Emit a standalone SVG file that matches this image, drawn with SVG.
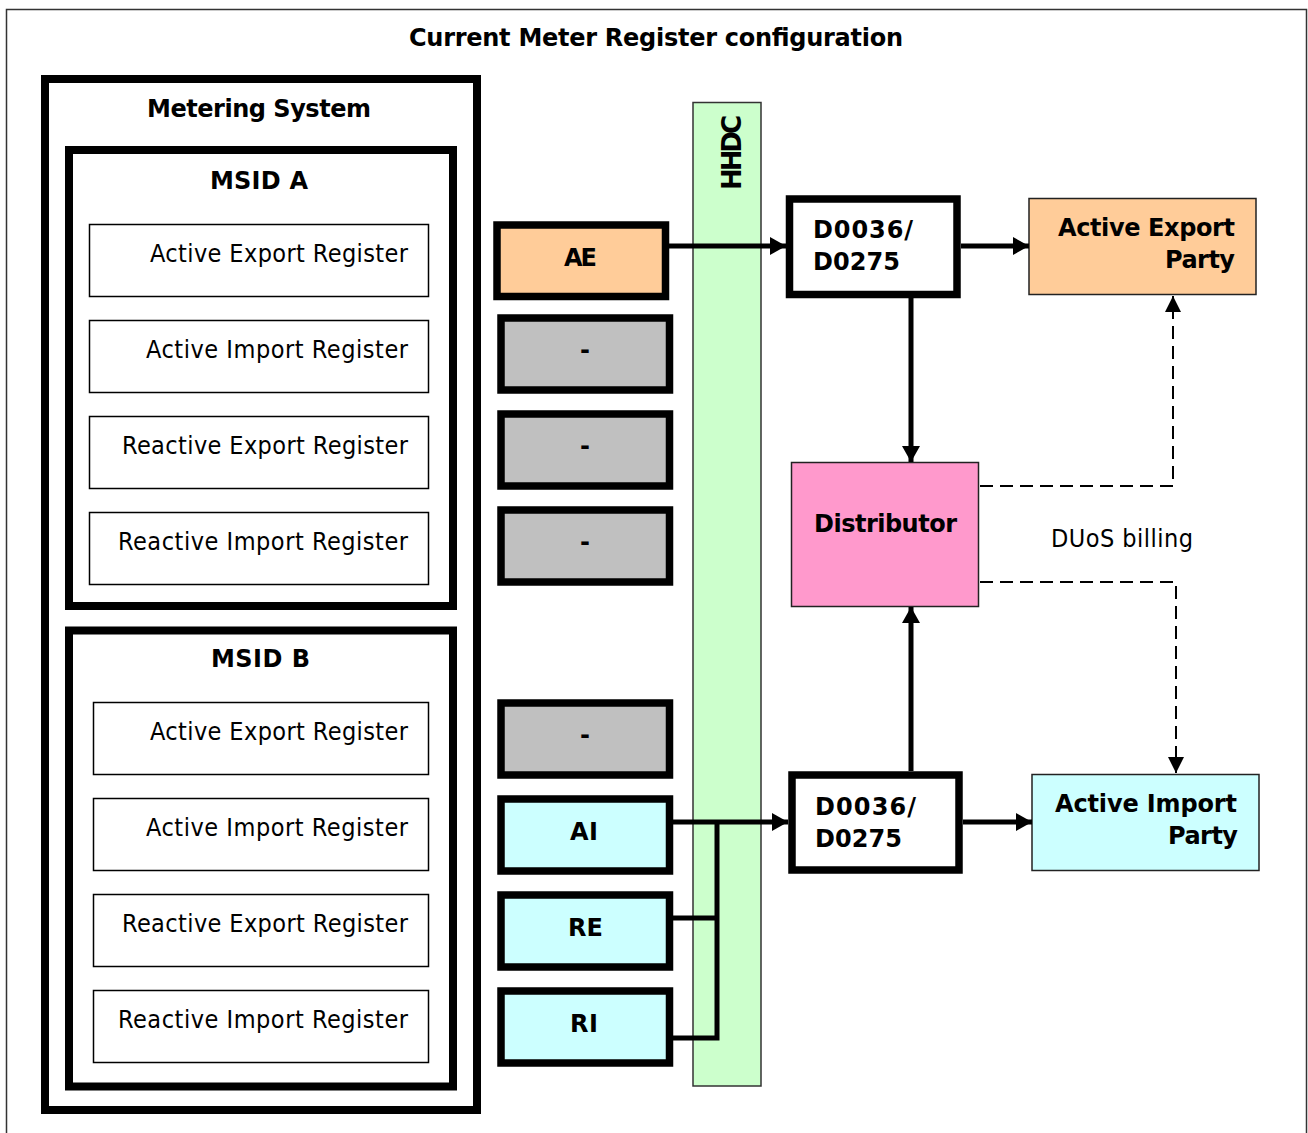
<svg xmlns="http://www.w3.org/2000/svg" width="1308" height="1133" viewBox="0 0 1308 1133">
<defs>
<style>
text{font-family:"DejaVu Sans Condensed","DejaVu Sans",sans-serif;font-stretch:condensed;fill:#000;font-size:25px}
.b{font-family:"DejaVu Sans",sans-serif;font-stretch:normal;font-weight:bold;font-size:24px}
.frame{fill:none;stroke:#000;stroke-width:8}
.reg{fill:#fff;stroke:#000;stroke-width:1.5}
.val{stroke:#000;stroke-width:7.5}
.thin{stroke:#222;stroke-width:1.5}
.ln{fill:none;stroke:#000;stroke-width:5}
.dash{fill:none;stroke:#000;stroke-width:2;stroke-dasharray:13 7}
</style>
<marker id="ah" viewBox="0 0 16 18" refX="16" refY="9" markerWidth="16" markerHeight="18" markerUnits="userSpaceOnUse" orient="auto"><path d="M0,0 L16,9 L0,18 Z" fill="#000"/></marker>
<marker id="ahs" viewBox="0 0 16 16" refX="16" refY="8" markerWidth="16" markerHeight="16" markerUnits="userSpaceOnUse" orient="auto"><path d="M0,0 L16,8 L0,16 Z" fill="#000"/></marker>
</defs>
<rect x="0" y="0" width="1308" height="1133" fill="#fff"/>
<g id="outer">
<rect x="6.5" y="9.5" width="1300" height="1140" fill="#fff" stroke="#333" stroke-width="1.5"/>
<text class="b" x="409" y="46" textLength="494" lengthAdjust="spacing">Current Meter Register configuration</text>
</g>
<g id="metering-system">
<rect class="frame" x="45" y="79" width="432" height="1031"/>
<text class="b" x="147" y="117" textLength="224" lengthAdjust="spacing">Metering System</text>
</g>
<g id="msid-a">
<rect class="frame" x="69" y="150" width="384" height="456"/>
<text class="b" x="210" y="189" textLength="98" lengthAdjust="spacing">MSID A</text>
</g>
<g id="msid-a-aer"><rect class="reg" x="89.5" y="224.5" width="339" height="72"/><text x="150" y="262" textLength="258" lengthAdjust="spacing">Active Export Register</text></g>
<g id="msid-a-air"><rect class="reg" x="89.5" y="320.5" width="339" height="72"/><text x="146" y="358" textLength="262" lengthAdjust="spacing">Active Import Register</text></g>
<g id="msid-a-rer"><rect class="reg" x="89.5" y="416.5" width="339" height="72"/><text x="122" y="454" textLength="286" lengthAdjust="spacing">Reactive Export Register</text></g>
<g id="msid-a-rir"><rect class="reg" x="89.5" y="512.5" width="339" height="72"/><text x="118" y="550" textLength="290" lengthAdjust="spacing">Reactive Import Register</text></g>
<g id="msid-b">
<rect class="frame" x="69" y="630.5" width="384" height="456"/>
<text class="b" x="211" y="667" textLength="99" lengthAdjust="spacing">MSID B</text>
</g>
<g id="msid-b-aer"><rect class="reg" x="93.5" y="702.5" width="335" height="72"/><text x="150" y="740" textLength="258" lengthAdjust="spacing">Active Export Register</text></g>
<g id="msid-b-air"><rect class="reg" x="93.5" y="798.5" width="335" height="72"/><text x="146" y="836" textLength="262" lengthAdjust="spacing">Active Import Register</text></g>
<g id="msid-b-rer"><rect class="reg" x="93.5" y="894.5" width="335" height="72"/><text x="122" y="932" textLength="286" lengthAdjust="spacing">Reactive Export Register</text></g>
<g id="msid-b-rir"><rect class="reg" x="93.5" y="990.5" width="335" height="72"/><text x="118" y="1028" textLength="290" lengthAdjust="spacing">Reactive Import Register</text></g>
<g id="hhdc">
<rect x="693" y="102.5" width="68" height="983.5" fill="#ccffcc" stroke="#333" stroke-width="1.5"/>
<text class="b" transform="translate(741,190) rotate(-90)" x="0" y="0" textLength="75" lengthAdjust="spacing" style="font-size:26px">HHDC</text>
</g>
<g id="ae"><rect class="val" x="497" y="225" width="168.5" height="71.5" fill="#ffcc99"/><text class="b" x="564" y="266" textLength="33" lengthAdjust="spacing">AE</text></g>
<g id="a-ai"><rect class="val" x="501" y="318" width="168.5" height="72" fill="#c0c0c0"/><text class="b" x="585" y="358" text-anchor="middle">-</text></g>
<g id="a-re"><rect class="val" x="501" y="414" width="168.5" height="72" fill="#c0c0c0"/><text class="b" x="585" y="454" text-anchor="middle">-</text></g>
<g id="a-ri"><rect class="val" x="501" y="510" width="168.5" height="72" fill="#c0c0c0"/><text class="b" x="585" y="550" text-anchor="middle">-</text></g>
<g id="b-ae"><rect class="val" x="501" y="703" width="168.5" height="72" fill="#c0c0c0"/><text class="b" x="585" y="743" text-anchor="middle">-</text></g>
<g id="ai"><rect class="val" x="501" y="799" width="168.5" height="72" fill="#ccffff"/><text class="b" x="570" y="840" textLength="28" lengthAdjust="spacing">AI</text></g>
<g id="re"><rect class="val" x="501" y="895" width="168.5" height="72" fill="#ccffff"/><text class="b" x="568" y="936" textLength="35" lengthAdjust="spacing">RE</text></g>
<g id="ri"><rect class="val" x="501" y="991" width="168.5" height="72" fill="#ccffff"/><text class="b" x="570" y="1032" textLength="28" lengthAdjust="spacing">RI</text></g>
<g id="flow-a"><rect class="val" x="789.5" y="199" width="167.5" height="95.5" fill="#fff"/><text class="b" x="813" y="238" textLength="100" lengthAdjust="spacing">D0036/</text><text class="b" x="813" y="270" textLength="87" lengthAdjust="spacing">D0275</text></g>
<g id="flow-b"><rect class="val" x="792" y="775" width="167" height="95" fill="#fff"/><text class="b" x="815" y="815" textLength="101" lengthAdjust="spacing">D0036/</text><text class="b" x="815" y="847" textLength="87" lengthAdjust="spacing">D0275</text></g>
<g id="active-export-party"><rect class="thin" x="1029" y="198.5" width="227" height="96" fill="#ffcc99"/><text class="b" x="1058" y="236" textLength="177" lengthAdjust="spacing">Active Export</text><text class="b" x="1165" y="268" textLength="70" lengthAdjust="spacing">Party</text></g>
<g id="distributor"><rect class="thin" x="791.5" y="462.5" width="187" height="144" fill="#ff99cc"/><text class="b" x="814" y="532" textLength="143" lengthAdjust="spacing">Distributor</text></g>
<g id="active-import-party"><rect class="thin" x="1032" y="774.5" width="227" height="96" fill="#ccffff"/><text class="b" x="1055" y="812" textLength="182" lengthAdjust="spacing">Active Import</text><text class="b" x="1168" y="844" textLength="70" lengthAdjust="spacing">Party</text></g>
<g id="connectors">
<line class="ln" x1="669" y1="246" x2="786" y2="246" marker-end="url(#ah)"/>
<line class="ln" x1="961" y1="246" x2="1029" y2="246" marker-end="url(#ah)"/>
<line class="ln" x1="911" y1="298" x2="911" y2="462" marker-end="url(#ah)"/>
<line class="ln" x1="911" y1="771" x2="911" y2="607" marker-end="url(#ah)"/>
<line class="ln" x1="963" y1="822" x2="1032" y2="822" marker-end="url(#ah)"/>
<line class="ln" x1="673" y1="822" x2="788" y2="822" marker-end="url(#ah)"/>
<polyline class="ln" points="673,918 717,918"/>
<polyline class="ln" points="673,1038 717,1038 717,820"/>
<polyline class="dash" points="980,486 1173,486 1173,296" marker-end="url(#ahs)"/>
<polyline class="dash" points="980,582 1176,582 1176,773" marker-end="url(#ahs)"/>
<text x="1051" y="547" textLength="142" lengthAdjust="spacing">DUoS billing</text>
</g>
</svg>
